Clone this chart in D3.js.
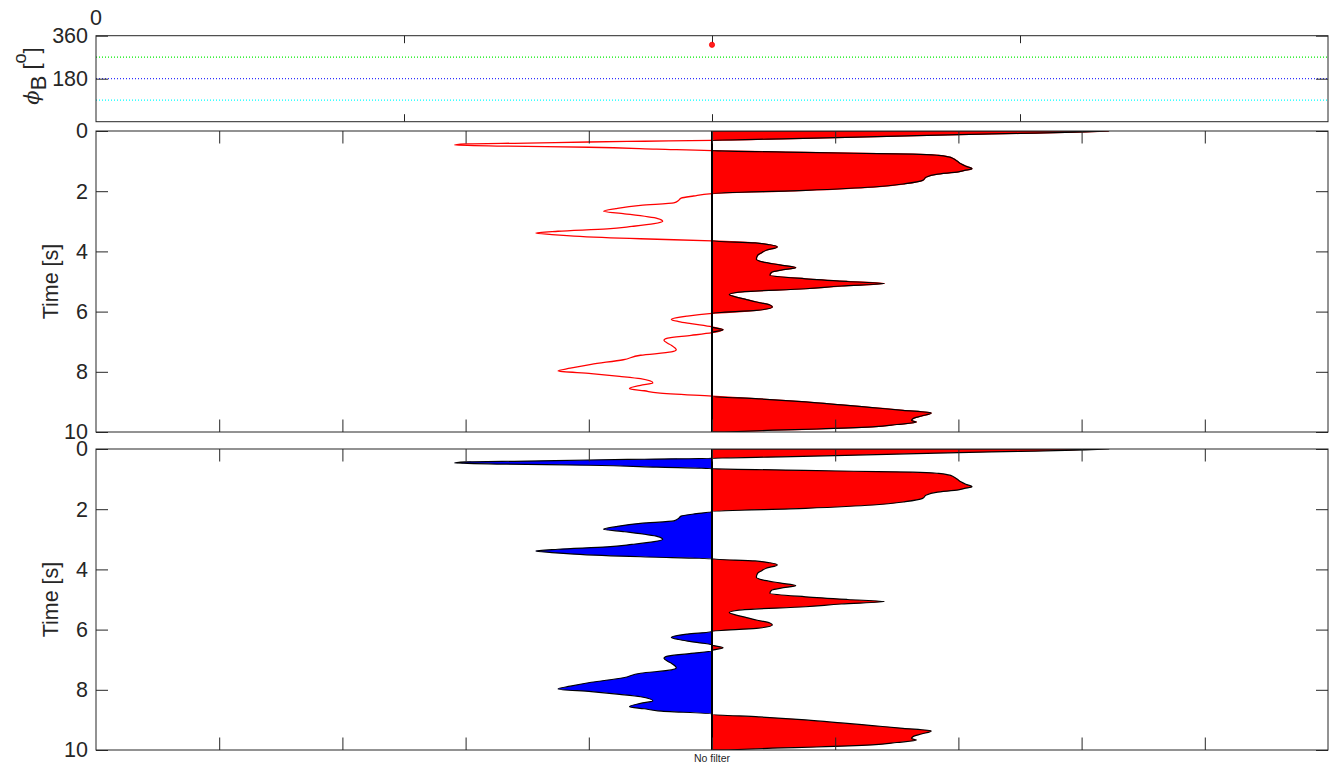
<!DOCTYPE html>
<html><head><meta charset="utf-8">
<script src="https://cdn.jsdelivr.net/npm/d3@7"></script>
<style>
body{margin:0;background:#fff}
text{font-family:"Liberation Sans",Arial,Helvetica,sans-serif;fill:#262626}
</style>
</head><body>
<svg id="chart" width="1340" height="772"></svg>
<script>
// ---------------- data ----------------
const timeS = [0.00,0.02,0.04,0.08,0.12,0.17,0.22,0.27,0.31,0.34,0.365,0.40,0.43,0.465,0.50,0.54,0.60,0.655,
  0.70,0.74,0.77,0.81,0.86,0.92,1.00,1.09,1.17,1.25,1.31,1.36,1.44,1.53,1.64,1.75,1.86,1.97,2.08,
  2.16,2.23,2.30,2.39,2.47,2.58,2.67,2.75,2.91,3.00,3.08,3.17,3.25,3.33,3.39,3.44,3.49,3.58,3.65,
  3.72,3.78,3.85,3.96,4.05,4.13,4.26,4.35,4.45,4.54,4.62,4.68,4.79,4.91,5.00,5.07,5.15,5.24,5.35,5.43,5.51,5.60,5.68,5.78,5.85,5.96,6.06,
  6.15,6.26,6.33,6.40,6.51,6.60,6.70,
  6.79,6.88,6.95,7.05,7.12,7.27,7.34,7.45,7.60,7.75,7.88,7.97,8.06,8.15,8.23,8.37,8.45,8.56,8.63,8.70,8.81,
  8.90,9.00,9.10,9.19,9.28,9.37,9.47,9.56,9.62,9.67,9.75,9.83,9.90,9.94,10.00];
const amplitude = [3.22,3.08,2.95,2.50,2.00,1.50,1.00,0.45,0.00,-0.55,-1.00,-1.50,-2.00,-2.09,-1.70,-1.00,-0.45,0.00,
  0.60,1.15,1.63,1.84,1.92,1.96,1.99,2.02,2.06,2.11,2.05,2.00,1.82,1.74,1.71,1.57,1.31,0.76,0.00,
  -0.15,-0.25,-0.27,-0.31,-0.58,-0.78,-0.88,-0.71,-0.44,-0.40,-0.47,-0.65,-0.85,-1.25,-1.43,-1.30,-1.12,-0.58,0.00,
  0.35,0.47,0.53,0.44,0.40,0.37,0.36,0.41,0.55,0.68,0.56,0.49,0.47,0.76,1.10,1.40,1.05,0.76,0.22,0.14,0.19,0.28,0.36,0.47,0.49,0.36,0.00,
  -0.20,-0.33,-0.27,-0.17,0.00,0.09,0.00,
  -0.17,-0.36,-0.39,-0.36,-0.33,-0.29,-0.33,-0.58,-0.72,-0.98,-1.15,-1.25,-0.98,-0.75,-0.58,-0.48,-0.58,-0.67,-0.55,-0.44,0.00,
  0.38,0.76,1.05,1.30,1.55,1.78,1.70,1.63,1.62,1.66,1.50,1.30,0.85,0.49,0.10];

const phiTickValues = [180, 360];
const phiRefAngles = [270, 180, 90];
const phiRefColors = ["#00ee00", "#3030ff", "#00ffff"];
const phiPointX = [2];
const phiPointAngle = [322];
const topXTicks = [1, 2, 3];
const timeTicks = [0, 2, 4, 6, 8, 10];
const ampTicks = [-4, -3, -2, -1, 0, 1, 2, 3, 4];
const bottomLabel = "No filter";

// ---------------- layout ----------------
const svg = d3.select("#chart");
const L = 96, R = 1328;
const P0 = {top: 35.7, bottom: 121.7};
const P1 = {top: 131, bottom: 432};
const P2 = {top: 449, bottom: 750};
const frameColor = "#262626";

// ---------------- top panel ----------------
const xTop = d3.scaleLinear().domain([0, 4]).range([L, R]);
const yPhi = d3.scaleLinear().domain([0, 360]).range([P0.bottom, P0.top]);
const g0 = svg.append("g");

phiRefAngles.forEach((a, i) => {
  g0.append("line").attr("x1", L).attr("x2", R).attr("y1", yPhi(a)).attr("y2", yPhi(a))
    .attr("stroke", phiRefColors[i]).attr("stroke-width", 1.2).attr("stroke-dasharray", "1,2");
});
g0.append("g").attr("transform", `translate(${L},0)`)
  .call(d3.axisLeft(yPhi).tickValues(phiTickValues).tickSize(-12).tickPadding(8).tickFormat(d3.format("d")))
  .call(g => { g.select(".domain").remove(); g.selectAll("line").attr("stroke", frameColor);
    g.selectAll("text").attr("font-size", 21.5).attr("fill", "#262626"); });
g0.append("g").attr("transform", `translate(${R},0)`)
  .call(d3.axisRight(yPhi).tickValues(phiTickValues).tickSize(-12).tickFormat(""))
  .call(g => { g.select(".domain").remove(); g.selectAll("line").attr("stroke", frameColor); });
g0.append("g").attr("transform", `translate(0,${P0.top})`)
  .call(d3.axisTop(xTop).tickValues(topXTicks).tickSize(-7.5).tickFormat(""))
  .call(g => { g.select(".domain").remove(); g.selectAll("line").attr("stroke", frameColor); });
g0.append("g").attr("transform", `translate(0,${P0.bottom})`)
  .call(d3.axisBottom(xTop).tickValues(topXTicks).tickSize(-7.5).tickFormat(""))
  .call(g => { g.select(".domain").remove(); g.selectAll("line").attr("stroke", frameColor); });
g0.append("text").attr("x", xTop(0)).attr("y", 24.5).attr("text-anchor", "middle").attr("font-size", 21.5).text("0");
g0.selectAll("circle.pt").data(phiPointX).join("circle")
  .attr("cx", d => xTop(d)).attr("cy", (d, i) => yPhi(phiPointAngle[i])).attr("r", 2.6)
  .attr("fill", "#ff2020").attr("stroke", "#ff0000").attr("stroke-width", 0.8);
g0.append("rect").attr("x", L).attr("y", P0.top).attr("width", R - L).attr("height", P0.bottom - P0.top)
  .attr("fill", "none").attr("stroke", frameColor).attr("stroke-width", 1);

// phi label
const phiLab = g0.append("text").attr("transform", "translate(39,76) rotate(-90)")
  .attr("text-anchor", "middle").attr("font-size", 22);
phiLab.append("tspan").attr("font-family", "DejaVu Serif").attr("font-style", "italic").attr("font-size", 21).text("ϕ");
phiLab.append("tspan").attr("dy", 7).text("B");
phiLab.append("tspan").attr("dy", -7).text(" [");
phiLab.append("tspan").attr("dy", -13).attr("font-size", 18).text("o");
phiLab.append("tspan").attr("dy", 13).text("]");

// ---------------- waveform panels ----------------
const xAmp = d3.scaleLinear().domain([-5, 5]).range([L, R]);
const trace = timeS.map((t, i) => ({t, a: amplitude[i]}));

function panel(P, id, withBlue) {
  const y = d3.scaleLinear().domain([0, 10]).range([P.top, P.bottom]);
  const g = svg.append("g");
  g.append("clipPath").attr("id", id).append("rect")
    .attr("x", L).attr("y", P.top).attr("width", R - L).attr("height", P.bottom - P.top);
  const c = g.append("g").attr("clip-path", `url(#${id})`);
  const curve = d3.curveMonotoneY;
  if (!withBlue) {
    c.append("path").datum(trace)
      .attr("d", d3.line().curve(curve).x(d => xAmp(d.a)).y(d => y(d.t)))
      .attr("fill", "none").attr("stroke", "#ff0000").attr("stroke-width", 1.3);
  } else {
    c.append("path").datum(trace)
      .attr("d", d3.area().curve(curve).y(d => y(d.t)).x0(xAmp(0)).x1(d => xAmp(Math.min(0, d.a))))
      .attr("fill", "#0000ff").attr("stroke", "#000").attr("stroke-width", 1.2).attr("stroke-linejoin", "round");
  }
  c.append("path").datum(trace)
    .attr("d", d3.area().curve(curve).y(d => y(d.t)).x0(xAmp(0)).x1(d => xAmp(Math.max(0, d.a))))
    .attr("fill", "#ff0000").attr("stroke", "#000").attr("stroke-width", 1.2).attr("stroke-linejoin", "round");
  c.append("line").attr("x1", xAmp(0)).attr("x2", xAmp(0)).attr("y1", P.top).attr("y2", P.bottom)
    .attr("stroke", "#000").attr("stroke-width", 2);

  const style = g2 => { g2.select(".domain").remove(); g2.selectAll("line").attr("stroke", frameColor); };
  g.append("g").attr("transform", `translate(${L},0)`)
    .call(d3.axisLeft(y).tickValues(timeTicks).tickSize(-12).tickPadding(8).tickFormat(d3.format("d")))
    .call(style).call(g2 => g2.selectAll("text").attr("font-size", 21.5).attr("fill", "#262626"));
  g.append("g").attr("transform", `translate(${R},0)`)
    .call(d3.axisRight(y).tickValues(timeTicks).tickSize(-12).tickFormat("")).call(style);
  g.append("g").attr("transform", `translate(0,${P.top})`)
    .call(d3.axisTop(xAmp).tickValues(ampTicks).tickSize(-12.5).tickFormat("")).call(style);
  g.append("g").attr("transform", `translate(0,${P.bottom})`)
    .call(d3.axisBottom(xAmp).tickValues(ampTicks).tickSize(-12.5).tickFormat("")).call(style);
  g.append("rect").attr("x", L).attr("y", P.top).attr("width", R - L).attr("height", P.bottom - P.top)
    .attr("fill", "none").attr("stroke", frameColor).attr("stroke-width", 1);
  g.append("text").attr("transform", `translate(58,${(P.top + P.bottom) / 2}) rotate(-90)`)
    .attr("text-anchor", "middle").attr("font-size", 21.5).text("Time [s]");
  return g;
}
panel(P1, "clipMid", false);
const gb = panel(P2, "clipBot", true);
gb.append("text").attr("x", xAmp(0)).attr("y", 761.5).attr("text-anchor", "middle")
  .attr("font-size", 10.5).text(bottomLabel);
</script>
</body></html>
